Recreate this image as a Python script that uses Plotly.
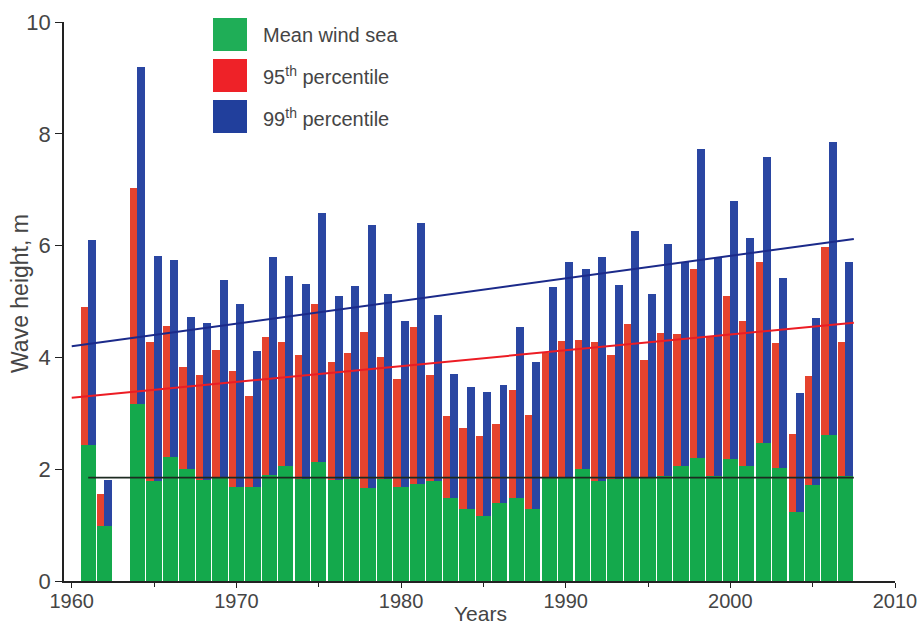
import plotly.graph_objects as go

years = list(range(1961, 2008))
mean_wind_sea = [2.44, 0.98, None, 3.16, 1.79, 2.22, 2.00, 1.80, 1.84, 1.68,
                 1.68, 1.90, 2.05, 1.82, 2.12, 1.80, 1.82, 1.67, 1.82, 1.68,
                 1.73, 1.79, 1.49, 1.29, 1.17, 1.39, 1.49, 1.29, 1.84, 1.84,
                 2.00, 1.79, 1.82, 1.84, 1.84, 1.87, 2.06, 2.20, 1.87, 2.19,
                 2.06, 2.46, 2.03, 1.24, 1.71, 2.62, 1.87]
p95 = [4.91, 1.56, None, 7.03, 4.28, 4.57, 3.83, 3.69, 4.14, 3.76,
       3.31, 4.37, 4.27, 4.05, 4.95, 3.91, 4.08, 4.46, 4.01, 3.61,
       4.55, 3.69, 2.96, 2.73, 2.60, 2.80, 3.42, 2.97, 4.08, 4.30,
       4.31, 4.28, 4.04, 4.60, 3.96, 4.43, 4.42, 5.59, 4.37, 5.10,
       4.65, 5.71, 4.25, 2.63, 3.66, 5.97, 4.28]
p99 = [6.10, 1.80, None, 9.20, 5.81, 5.74, 4.73, 4.62, 5.38, 4.95,
       4.12, 5.80, 5.46, 5.31, 6.58, 5.10, 5.27, 6.37, 5.14, 4.65,
       6.40, 4.75, 3.70, 3.47, 3.39, 3.50, 4.55, 3.91, 5.26, 5.71,
       5.58, 5.80, 5.29, 6.26, 5.13, 6.03, 5.71, 7.72, 5.78, 6.79,
       6.14, 7.58, 5.42, 3.37, 4.71, 7.86, 5.70]

trend_mean_x = [1961.0, 2007.5]
trend_mean_y = [1.85, 1.85]
trend_p95_x = [1960.0, 2007.5]
trend_p95_y = [3.28, 4.62]
trend_p99_x = [1960.0, 2007.5]
trend_p99_y = [4.20, 6.12]

legend_labels = ["Mean wind sea", "95<sup>th</sup> percentile", "99<sup>th</sup> percentile"]
x_title = "Years"
y_title = "Wave height, m"

GREEN = "#14a94c"
RED = "#e5432e"
BLUE = "#2a46a2"
TEXT = "#454545"
FONT = "Liberation Sans, Arial"

def diff(top, base):
    return [None if (t is None or b is None) else t - b for t, b in zip(top, base)]

fig = go.Figure()
fig.add_trace(go.Bar(x=years, y=mean_wind_sea, width=0.93, marker_color=GREEN,
                     marker_line_width=0, showlegend=False))
fig.add_trace(go.Bar(x=years, y=diff(p95, mean_wind_sea), base=mean_wind_sea,
                     width=0.445, offset=-0.465, marker_color=RED,
                     marker_line_width=0, showlegend=False))
fig.add_trace(go.Bar(x=years, y=diff(p99, mean_wind_sea), base=mean_wind_sea,
                     width=0.485, offset=-0.02, marker_color=BLUE,
                     marker_line_width=0, showlegend=False))
fig.add_trace(go.Scatter(x=trend_mean_x, y=trend_mean_y, mode="lines",
                         line=dict(color="#1d2b20", width=1.6), showlegend=False))
fig.add_trace(go.Scatter(x=trend_p95_x, y=trend_p95_y, mode="lines",
                         line=dict(color="#ec1c24", width=2), showlegend=False))
fig.add_trace(go.Scatter(x=trend_p99_x, y=trend_p99_y, mode="lines",
                         line=dict(color="#1b2a8a", width=2), showlegend=False))

W, H = 919, 627
L, R, T, B = 64, 24, 22, 46
PW, PH = W - L - R, H - T - B

def px(x):
    return (x - L) / PW

def py(y):
    return (H - B - y) / PH

# Legend drawn as boxes + text
legend_colors = ["#1fae57", "#ee2228", "#213f9c"]
legend_tops = [18, 59, 100]
for lab, col, top in zip(legend_labels, legend_colors, legend_tops):
    fig.add_shape(type="rect", xref="paper", yref="paper",
                  x0=px(213), x1=px(247), y0=py(top + 33), y1=py(top),
                  fillcolor=col, line=dict(width=0), layer="above")
    fig.add_annotation(xref="paper", yref="paper", x=px(261), y=py(top + 17),
                       text=lab, showarrow=False, xanchor="left", yanchor="middle",
                       font=dict(family=FONT, size=20, color=TEXT))

# Axis titles
fig.add_annotation(xref="paper", yref="paper", x=px(480), y=py(613), text=x_title,
                   showarrow=False, xanchor="center", yanchor="middle",
                   font=dict(family=FONT, size=21, color=TEXT))
fig.add_annotation(xref="paper", yref="paper", x=px(20), y=py(294), text=y_title,
                   showarrow=False, xanchor="center", yanchor="middle", textangle=-90,
                   font=dict(family=FONT, size=23, color=TEXT))

fig.update_layout(
    width=W, height=H,
    margin=dict(l=L, r=R, t=T, b=B),
    paper_bgcolor="white", plot_bgcolor="white",
    barmode="overlay", bargap=0,
    font=dict(family=FONT, size=19, color=TEXT),
    xaxis=dict(range=[1959.53, 2010], tick0=1960, dtick=10, ticks="outside",
               ticklen=5, tickcolor="#222", showline=True, linecolor="#222",
               linewidth=1.5, showgrid=False, zeroline=False, automargin=False,
               ticklabelstandoff=-4,
               minor=dict(dtick=5, ticks="outside", ticklen=4, tickcolor="#222"),
               tickfont=dict(size=20)),
    yaxis=dict(range=[0, 10], dtick=2, ticks="outside", ticklen=7,
               tickcolor="#222", showline=True, linecolor="#222", linewidth=1.5,
               showgrid=False, zeroline=False, automargin=False,
               tickfont=dict(size=22)),
)

fig.write_html("out.html", config={"displayModeBar": False},
               post_script="document.body.style.margin='0';")
